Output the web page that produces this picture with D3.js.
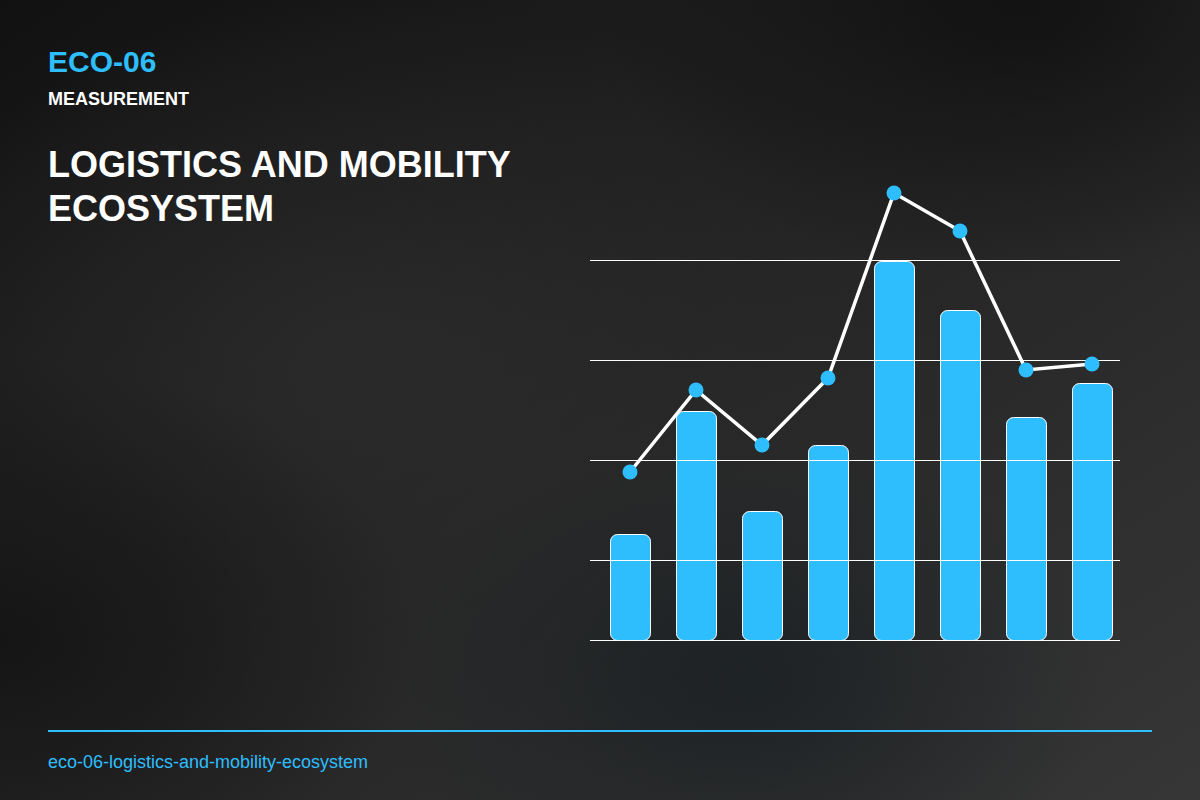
<!DOCTYPE html>
<html>
<head>
<meta charset="utf-8">
<script src="https://cdn.jsdelivr.net/npm/d3@7"></script>
<style>
  html, body { margin: 0; padding: 0; background: #1c1c1c; }
  svg { display: block; font-family: "Liberation Sans", Arial, sans-serif; }
</style>
</head>
<body>
<div id="chart"></div>
<script>
// chart values
const categories = ["C1", "C2", "C3", "C4", "C5", "C6", "C7", "C8"];
const barValues = [25.2, 49.8, 29.8, 43, 79.8, 70, 48.6, 55.4];
const lineValues = [37.6, 54, 43, 56.4, 93.4, 85.8, 58, 59.2];
const gridTicks = [20, 40, 60, 80];

const blue = "#2ebefd";
const width = 1200, height = 800;

const svg = d3.select("#chart").append("svg")
  .attr("width", width)
  .attr("height", height);

// background
const defs = svg.append("defs");
const bg = defs.append("linearGradient").attr("id", "bg")
  .attr("x1", 0).attr("y1", 0).attr("x2", 1).attr("y2", 1);
bg.append("stop").attr("offset", "0%").attr("stop-color", "#111111");
bg.append("stop").attr("offset", "45%").attr("stop-color", "#232323");
bg.append("stop").attr("offset", "100%").attr("stop-color", "#363636");

const glow = defs.append("radialGradient").attr("id", "glow")
  .attr("cx", 0.3).attr("cy", 0.45).attr("r", 0.45);
glow.append("stop").attr("offset", "0%").attr("stop-color", "#2c2c2c").attr("stop-opacity", 0.8);
glow.append("stop").attr("offset", "100%").attr("stop-color", "#2c2c2c").attr("stop-opacity", 0);

const topDark = defs.append("radialGradient").attr("id", "topDark")
  .attr("cx", 0.85).attr("cy", 0.0).attr("r", 0.35);
topDark.append("stop").attr("offset", "0%").attr("stop-color", "#0e0e0e").attr("stop-opacity", 0.8);
topDark.append("stop").attr("offset", "100%").attr("stop-color", "#0e0e0e").attr("stop-opacity", 0);

const leftDark = defs.append("radialGradient").attr("id", "leftDark")
  .attr("cx", 0.0).attr("cy", 0.8).attr("r", 0.35);
leftDark.append("stop").attr("offset", "0%").attr("stop-color", "#141414").attr("stop-opacity", 0.9);
leftDark.append("stop").attr("offset", "100%").attr("stop-color", "#141414").attr("stop-opacity", 0);

const botCool = defs.append("radialGradient").attr("id", "botCool")
  .attr("cx", 0.62).attr("cy", 0.85).attr("r", 0.3);
botCool.append("stop").attr("offset", "0%").attr("stop-color", "#1c2124").attr("stop-opacity", 0.9);
botCool.append("stop").attr("offset", "100%").attr("stop-color", "#1c2124").attr("stop-opacity", 0);

svg.append("rect").attr("width", width).attr("height", height).attr("fill", "url(#bg)");
svg.append("rect").attr("width", width).attr("height", height).attr("fill", "url(#glow)");
svg.append("rect").attr("width", width).attr("height", height).attr("fill", "url(#topDark)");
svg.append("rect").attr("width", width).attr("height", height).attr("fill", "url(#leftDark)");
svg.append("rect").attr("width", width).attr("height", height).attr("fill", "url(#botCool)");

// header text
svg.append("text").attr("x", 48).attr("y", 72)
  .attr("fill", blue).attr("font-size", 30).attr("font-weight", "bold")
  .text("ECO-06");
svg.append("text").attr("x", 48).attr("y", 105)
  .attr("fill", "#ffffff").attr("font-size", 18).attr("font-weight", "bold")
  .text("MEASUREMENT");
svg.append("text").attr("x", 48).attr("y", 177)
  .attr("fill", "#ffffff").attr("font-size", 36).attr("font-weight", "bold")
  .text("LOGISTICS AND MOBILITY");
svg.append("text").attr("x", 48).attr("y", 221)
  .attr("fill", "#ffffff").attr("font-size", 36).attr("font-weight", "bold")
  .text("ECOSYSTEM");

// scales
const x = d3.scaleBand()
  .domain(categories)
  .range([597, 1125])
  .paddingInner(0.394)
  .paddingOuter(0.197);

const y = d3.scaleLinear()
  .domain([4, 96])
  .range([640, 180]);

// bars
svg.append("g")
  .selectAll("rect")
  .data(barValues)
  .enter()
  .append("rect")
  .attr("x", (d, i) => x(categories[i]) + 0.5)
  .attr("y", d => y(d) + 0.5)
  .attr("width", x.bandwidth())
  .attr("height", d => y.range()[0] - y(d))
  .attr("rx", 7)
  .attr("fill", blue)
  .attr("stroke", "#ffffff")
  .attr("stroke-width", 1);

// grid lines over the bars
svg.append("g")
  .selectAll("line")
  .data(gridTicks)
  .enter()
  .append("line")
  .attr("x1", 590).attr("x2", 1120)
  .attr("y1", d => y(d) + 0.5).attr("y2", d => y(d) + 0.5)
  .attr("stroke", "#ffffff")
  .attr("stroke-width", 1);

svg.append("line")
  .attr("x1", 590).attr("x2", 1120)
  .attr("y1", y.range()[0] + 0.5).attr("y2", y.range()[0] + 0.5)
  .attr("stroke", "#ffffff")
  .attr("stroke-width", 1);

// line + dots
const line = d3.line()
  .x((d, i) => x(categories[i]) + x.bandwidth() / 2)
  .y(d => y(d));

svg.append("path")
  .datum(lineValues)
  .attr("d", line)
  .attr("fill", "none")
  .attr("stroke", "#ffffff")
  .attr("stroke-width", 3.5);

svg.append("g")
  .selectAll("circle")
  .data(lineValues)
  .enter()
  .append("circle")
  .attr("cx", (d, i) => x(categories[i]) + x.bandwidth() / 2)
  .attr("cy", d => y(d))
  .attr("r", 7.5)
  .attr("fill", blue);

// footer
svg.append("line")
  .attr("x1", 48).attr("x2", 1152)
  .attr("y1", 731).attr("y2", 731)
  .attr("stroke", blue)
  .attr("stroke-width", 2);

svg.append("text").attr("x", 48).attr("y", 768)
  .attr("fill", blue).attr("font-size", 18)
  .text("eco-06-logistics-and-mobility-ecosystem");
</script>
</body>
</html>
